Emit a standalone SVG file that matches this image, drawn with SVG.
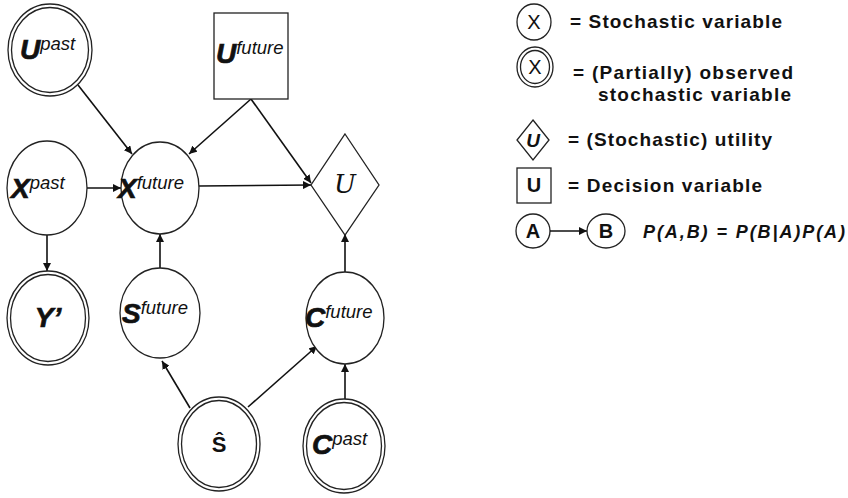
<svg xmlns="http://www.w3.org/2000/svg" width="848" height="498" viewBox="0 0 848 498">
  <style>
    .node { fill: #fff; stroke: #222; stroke-width: 1.3; }
    .dbl  { fill: none; stroke: #222; stroke-width: 1.3; }
    .edge { stroke: #111; stroke-width: 1.6; fill: none; marker-end: url(#arr); }
    .big  { font-family: "Liberation Sans", Arial, sans-serif; font-weight: bold; font-style: italic; font-size: 28px; fill: #111; stroke: #111; stroke-width: 0.7; }
    .sup  { font-family: "Liberation Sans", Arial, sans-serif; font-weight: normal; font-style: italic; font-size: 18.5px; fill: #111; stroke: none; }
    .leg  { font-family: "Liberation Sans", Arial, sans-serif; font-weight: bold; font-size: 19px; fill: #111; }
    .sym  { font-family: "Liberation Sans", Arial, sans-serif; font-size: 20px; fill: #111; text-anchor: middle; }
  </style>
  <defs>
    <marker id="arr" viewBox="0 0 10 10" refX="10" refY="5" markerWidth="8" markerHeight="8" markerUnits="userSpaceOnUse" orient="auto">
      <path d="M0,0 L10,5 L0,10 z" fill="#111"/>
    </marker>
  </defs>

  <rect width="848" height="498" fill="#fff"/>

  <!-- connectors -->
  <g id="edges">
    <line class="edge" x1="78" y1="85" x2="132" y2="154"/>
    <line class="edge" x1="251" y1="99" x2="189" y2="154"/>
    <line class="edge" x1="251" y1="99" x2="311" y2="183"/>
    <line class="edge" x1="87" y1="188" x2="121" y2="188"/>
    <line class="edge" x1="199" y1="186" x2="311" y2="185"/>
    <line class="edge" x1="47" y1="235" x2="47" y2="271"/>
    <line class="edge" x1="160" y1="268" x2="160" y2="234"/>
    <line class="edge" x1="190" y1="408" x2="162" y2="361"/>
    <line class="edge" x1="248" y1="407" x2="317" y2="346"/>
    <line class="edge" x1="345" y1="399" x2="345" y2="364"/>
    <line class="edge" x1="345" y1="272" x2="345" y2="234"/>
  </g>

  <!-- nodes -->
  <g id="u-past">
    <ellipse class="node" cx="50" cy="50" rx="42" ry="46"/>
    <ellipse class="dbl" cx="50" cy="50" rx="38.5" ry="42.5"/>
    <text x="20" y="59"><tspan class="big">U</tspan><tspan class="sup" dy="-9">past</tspan></text>
  </g>

  <g id="u-future">
    <rect class="node" x="214" y="13" width="74" height="86"/>
    <text x="216" y="63"><tspan class="big">U</tspan><tspan class="sup" dy="-9">future</tspan></text>
  </g>

  <g id="x-past">
    <ellipse class="node" cx="47" cy="188" rx="40" ry="47"/>
    <text x="11" y="198"><tspan class="big">X</tspan><tspan class="sup" dy="-9">past</tspan></text>
  </g>

  <g id="x-future">
    <ellipse class="node" cx="160" cy="188" rx="39" ry="46"/>
    <text x="118" y="198"><tspan class="big">X</tspan><tspan class="sup" dy="-9">future</tspan></text>
  </g>

  <g id="utility">
    <polygon class="node" points="345,134 379,185 345,235 311,185"/>
    <text x="345" y="193" text-anchor="middle" font-family="'DejaVu Serif', 'Liberation Serif', serif" font-style="italic" font-size="26" fill="#111">U</text>
  </g>

  <g id="y-prime">
    <ellipse class="node" cx="48" cy="318" rx="41" ry="47"/>
    <ellipse class="dbl" cx="48" cy="318" rx="37.5" ry="43.5"/>
    <text class="big" x="48" y="327" text-anchor="middle">Y’</text>
  </g>

  <g id="s-future">
    <ellipse class="node" cx="160" cy="313" rx="40" ry="45"/>
    <text x="122" y="323"><tspan class="big">S</tspan><tspan class="sup" dy="-9">future</tspan></text>
  </g>

  <g id="c-future">
    <ellipse class="node" cx="345" cy="318" rx="39" ry="46"/>
    <text x="305" y="327"><tspan class="big">C</tspan><tspan class="sup" dy="-9">future</tspan></text>
  </g>

  <g id="s-hat">
    <ellipse class="node" cx="219" cy="444" rx="41" ry="47"/>
    <ellipse class="dbl" cx="219" cy="444" rx="37.5" ry="43.5"/>
    <text x="219" y="452" text-anchor="middle" font-family="'Liberation Sans', Arial, sans-serif" font-weight="bold" font-size="22" fill="#111">Ŝ</text>
  </g>

  <g id="c-past">
    <ellipse class="node" cx="344" cy="446" rx="41" ry="47"/>
    <ellipse class="dbl" cx="344" cy="446" rx="37.5" ry="43.5"/>
    <text x="312" y="454"><tspan class="big">C</tspan><tspan class="sup" dy="-9">past</tspan></text>
  </g>

  <!-- legend -->
  <g id="legend-stochastic">
    <ellipse class="node" cx="534" cy="22" rx="17" ry="18"/>
    <text class="sym" x="534" y="29">X</text>
    <text class="leg" x="570" y="28" textLength="212" lengthAdjust="spacing">= Stochastic variable</text>
  </g>

  <g id="legend-observed">
    <ellipse class="node" cx="535" cy="67" rx="18" ry="20"/>
    <ellipse class="dbl" cx="535" cy="67" rx="14.5" ry="16.5"/>
    <text class="sym" x="535" y="74">X</text>
    <text class="leg" x="573" y="79" textLength="220" lengthAdjust="spacing">= (Partially) observed</text>
    <text class="leg" x="598" y="101" textLength="193" lengthAdjust="spacing">stochastic variable</text>
  </g>

  <g id="legend-utility">
    <polygon class="node" points="533,120 549,140 533,160 517,140"/>
    <text x="533" y="147" text-anchor="middle" font-family="'Liberation Sans', Arial, sans-serif" font-weight="bold" font-style="italic" font-size="19" fill="#111">U</text>
    <text class="leg" x="568" y="146" textLength="204" lengthAdjust="spacing">= (Stochastic) utility</text>
  </g>

  <g id="legend-decision">
    <rect class="node" x="517" y="168" width="34" height="35"/>
    <text class="sym" x="534" y="192" font-weight="bold">U</text>
    <text class="leg" x="568" y="192" textLength="194" lengthAdjust="spacing">= Decision variable</text>
  </g>

  <g id="legend-conditional">
    <ellipse class="node" cx="533" cy="231" rx="17" ry="17"/>
    <text class="sym" x="533" y="238" font-weight="bold">A</text>
    <line class="edge" x1="550" y1="231" x2="587" y2="231"/>
    <ellipse class="node" cx="606" cy="231" rx="19" ry="17"/>
    <text class="sym" x="606" y="238" font-weight="bold">B</text>
    <text x="643" y="238" font-family="'Liberation Sans', Arial, sans-serif" font-weight="bold" font-style="italic" font-size="18" fill="#111" textLength="202" lengthAdjust="spacing">P(A,B) = P(B|A)P(A)</text>
  </g>
</svg>
